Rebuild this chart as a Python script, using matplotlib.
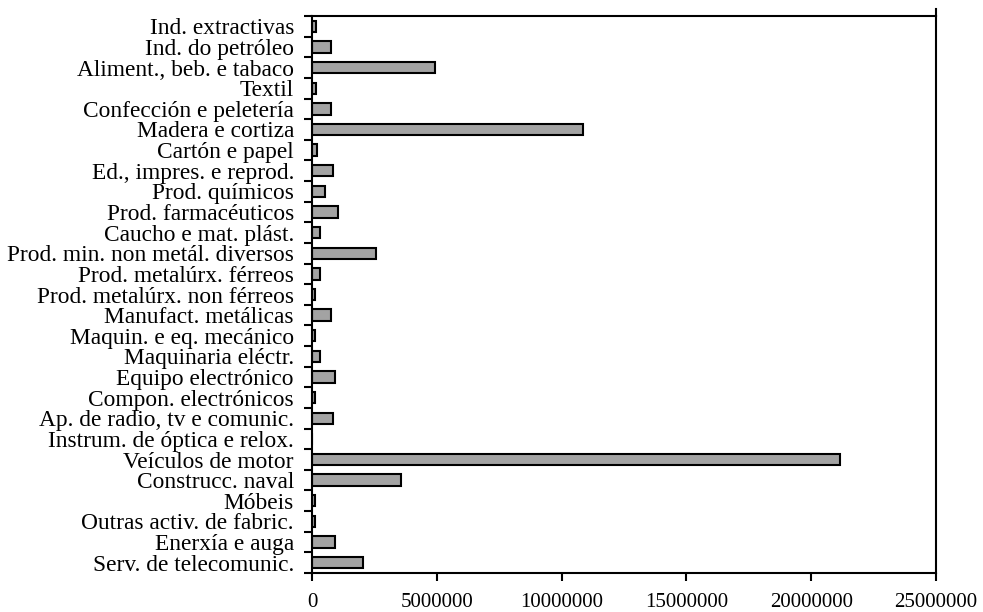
import matplotlib
matplotlib.use("Agg")
import matplotlib.pyplot as plt
from matplotlib.ticker import FixedLocator

categories = [
    "Ind. extractivas", "Ind. do petróleo", "Aliment., beb. e tabaco", "Textil",
    "Confección e peletería", "Madera e cortiza", "Cartón e papel",
    "Ed., impres. e reprod.", "Prod. químicos", "Prod. farmacéuticos",
    "Caucho e mat. plást.", "Prod. min. non metál. diversos",
    "Prod. metalúrx. férreos", "Prod. metalúrx. non férreos",
    "Manufact. metálicas", "Maquin. e eq. mecánico", "Maquinaria eléctr.",
    "Equipo electrónico", "Compon. electrónicos", "Ap. de radio, tv e comunic.",
    "Instrum. de óptica e relox.", "Veículos de motor", "Construcc. naval",
    "Móbeis", "Outras activ. de fabric.", "Enerxía e auga",
    "Serv. de telecomunic.",
]
values = [
    160000, 750000, 4910000, 160000, 750000, 10850000, 210000,
    830000, 530000, 1030000, 330000, 2560000, 310000, 140000,
    760000, 140000, 330000, 930000, 140000, 840000, 0,
    21150000, 3580000, 140000, 140000, 930000, 2040000,
]
xticks = [0, 5000000, 10000000, 15000000, 20000000, 25000000]

plt.rcParams['font.family'] = ['Liberation Serif', 'DejaVu Serif']

fig = plt.figure(figsize=(9.83, 6.12), dpi=100)
ax = fig.add_axes([312/983, 1-573/612, (936-312)/983, (573-16)/612])

n = len(categories)
ypos = list(range(n))
ax.barh(ypos, values, height=0.55, color='#a3a3a3', edgecolor='black', linewidth=1.5)

ax.set_xlim(0, 25000000)
ax.set_ylim(n - 0.5, -0.5)

ax.set_yticks(ypos)
ax.set_yticklabels(categories, fontsize=16.8)
ax.tick_params(axis='y', which='major', length=0, pad=13)
ax.yaxis.set_minor_locator(FixedLocator([i - 0.5 for i in range(n + 1)]))
ax.tick_params(axis='y', which='minor', length=6, width=1.5, direction='out')

ax.set_xticks(xticks)
ax.set_xticklabels([str(v) for v in xticks], fontsize=15)
ax.tick_params(axis='x', which='major', length=5.5, width=1.5, direction='out', pad=9)

for s in ax.spines.values():
    s.set_linewidth(1.5)

ax.plot([1, 1], [1, 1.012], transform=ax.transAxes, color='black', lw=1.5, clip_on=False)

fig.savefig("out.png", dpi=100)
